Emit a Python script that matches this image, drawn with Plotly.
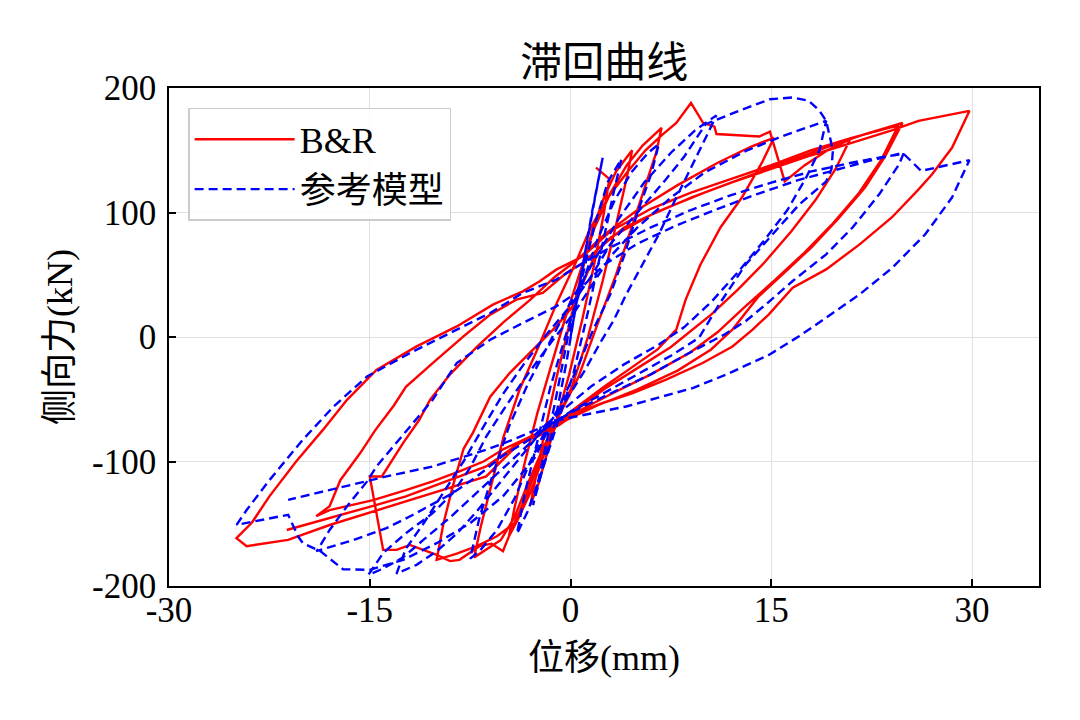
import plotly.graph_objects as go

# B&R hysteresis path (displacement mm, force kN)
red_pts = [
    (1.9, 136), (2.9, 127), (2.5, 100), (1.8, 60), (0.9, 15), (-0.1, -30), (-1.0, -65),
    (-1.8, -95), (-2.4, -118), (-3.0, -135),
    (-2.7, -118), (-2.0, -80), (-1.1, -35), (-0.1, 10), (0.8, 50), (1.6, 85), (2.5, 112),
    (3.4, 133), (4.6, 150),
    (4.2, 128), (3.4, 90), (2.4, 45), (1.3, 0), (0.1, -40), (-1.1, -68), (-2.2, -95),
    (-3.2, -125), (-4.0, -148), (-4.6, -160),
    (-4.2, -138), (-3.4, -100), (-2.5, -62), (-1.5, -25), (-0.4, 15), (0.7, 52), (1.8, 88),
    (3.0, 116), (4.2, 138), (5.4, 154), (6.2, 162), (6.8, 168),
    (6.4, 148), (5.6, 122), (4.6, 90), (3.4, 50), (2.0, 10), (0.6, -32), (-0.8, -62),
    (-2.0, -88), (-3.2, -118), (-4.2, -145), (-5.2, -163), (-6.2, -170), (-7.2, -177),
    (-6.7, -152), (-5.9, -118), (-5.0, -80), (-3.8, -42), (-2.4, -8), (-1.0, 28), (0.4, 60),
    (1.5, 88), (2.8, 112), (4.2, 132), (5.6, 150), (6.8, 162), (7.9, 172), (9.0, 188),
    (9.9, 172), (10.75, 169), (10.9, 163), (12.5, 162), (14.1, 161), (14.9, 165),
    (16.0, 125), (17.5, 138), (19.2, 150), (20.9, 159),
    (19.8, 135), (18.3, 110), (16.5, 85), (14.5, 60), (12.5, 38), (10.5, 18), (9.1, 6),
    (7.5, -8), (5.0, -25), (2.5, -42), (0.5, -58), (-1.0, -70), (-2.0, -90), (-3.0, -118),
    (-3.8, -140), (-4.3, -152), (-5.05, -172), (-5.9, -166), (-6.8, -168), (-8.3, -179),
    (-9.0, -180), (-10.0, -175), (-12.0, -167), (-13.0, -171), (-14.0, -171),
    (-15.0, -112), (-14.1, -112),
    (-12.5, -85), (-11.3, -66.5), (-10.5, -50.5), (-9.0, -30), (-7.0, -8), (-5.0, 12),
    (-3.0, 30), (-1.2, 48), (0.5, 62),
    (2.5, 82), (5.0, 102), (8.0, 122), (11.0, 140), (13.5, 153), (15.2, 160),
    (14.3, 140), (12.8, 112), (11.2, 88), (9.7, 58), (8.6, 30), (7.9, 6), (6.5, -10),
    (4.5, -25), (2.5, -40), (0.5, -56), (-1.0, -68),
    (-2.0, -95), (-3.0, -125), (-4.0, -148), (-5.5, -160), (-7.0, -168), (-8.5, -174),
    (-10.0, -179),
    (-9.5, -150), (-8.8, -120), (-8.0, -90), (-7.3, -77), (-6.0, -48), (-4.55, -29),
    (-2.8, -10), (-1.07, 8.5), (0.17, 24.6), (1.0, 45),
    (2.0, 70), (4.0, 88), (7.0, 103), (10.0, 116), (13.0, 128), (16.0, 140), (19.0, 152),
    (22.0, 163), (24.8, 172),
    (23.5, 145), (22.0, 120), (20.0, 95), (18.0, 72), (16.0, 52), (14.0, 32), (12.1, 6),
    (10.5, -10), (8.0, -27), (5.0, -42), (2.0, -55), (0.0, -65), (-1.2, -72),
    (-3.0, -80), (-5.0, -90), (-6.5, -100), (-8.3, -108), (-10.3, -116), (-12.3, -123),
    (-14.75, -131), (-18.0, -139), (-19.0, -144),
    (-18.0, -136), (-17.2, -115), (-15.7, -93), (-14.6, -75), (-13.2, -55), (-12.3, -40),
    (-10.3, -21), (-8.0, 0.5), (-6.0, 18), (-4.05, 30), (-2.07, 35.4), (-0.32, 51.4),
    (0.92, 59.5),
    (3.0, 80), (6.0, 98), (9.0, 112), (12.0, 124), (15.0, 135), (18.0, 146), (21.0, 156),
    (24.0, 166), (26.0, 173.6), (29.8, 181.6),
    (28.5, 152), (27.0, 130.5), (25.9, 117.4), (24.0, 96), (21.6, 74.4), (19.1, 54.3),
    (16.6, 39.6), (14.8, 18), (13.6, 5.9), (12.1, -7.6), (9.87, -20.9), (7.14, -34.3),
    (4.65, -45), (2.4, -53), (0.43, -61), (-0.82, -70.5),
    (-2.5, -80), (-3.8, -85), (-6.3, -112), (-10.8, -127), (-14.75, -140), (-18.0, -151),
    (-21.1, -163), (-24.2, -168), (-24.96, -161.6),
    (-23.8, -149), (-22.5, -128), (-20.5, -100), (-18.5, -74.6), (-16.7, -50.5),
    (-14.5, -26.4), (-11.5, -7.5), (-8.5, 8.5), (-5.8, 26), (-3.56, 36.7), (-2.3, 44.7),
    (-1.07, 54.1), (0.92, 64.8),
    (3.0, 85), (6.0, 103), (9.0, 116), (12.0, 127), (15.0, 138), (18.0, 150), (21.0, 160),
    (24.5, 170),
    (23.2, 142), (21.5, 115), (19.5, 90), (17.5, 68), (15.3, 46), (13.0, 24), (11.0, 4),
    (9.0, -12), (6.0, -30), (3.0, -46), (0.5, -60), (-1.5, -72),
    (-3.8, -85), (-6.3, -104), (-8.3, -112), (-10.3, -120), (-12.3, -128), (-14.75, -135.6),
    (-18.0, -145.5), (-21.2, -155),
]

# reference model path
blue_pts = [
    (0.0, 0), (0.8, 50), (1.6, 100), (2.4, 144), (1.8, 110), (0.8, 50), (-0.3, -20),
    (-1.2, -70), (-2.2, -110), (-2.8, -135),
    (-2.2, -105), (-1.2, -55), (-0.2, 0), (0.8, 45), (1.8, 90), (2.8, 125), (3.8, 143),
    (3.2, 115), (2.3, 70), (1.3, 20), (0.2, -30), (-1.0, -70), (-2.2, -110), (-3.2, -140),
    (-4.0, -158),
    (-3.4, -125), (-2.5, -85), (-1.5, -40), (-0.4, 0), (0.8, 40), (2.0, 78), (3.3, 110),
    (4.6, 133), (5.8, 148), (6.6, 155),
    (6.0, 130), (5.0, 100), (4.0, 65), (3.0, 35), (1.7, 6), (0.5, -25), (-0.8, -55),
    (-2.0, -78), (-3.0, -100), (-4.2, -130), (-5.5, -155), (-6.8, -172), (-7.5, -178),
    (-6.8, -145), (-5.8, -110), (-4.6, -72), (-3.2, -38), (-1.6, -5), (0.0, 28), (1.8, 62),
    (3.6, 95), (5.5, 124), (7.5, 148), (9.3, 166), (10.9, 178),
    (10.1, 160), (9.1, 138.7), (7.9, 112), (6.6, 82.5), (5.4, 58.4), (4.16, 34.2),
    (3.2, 12.9), (2.2, -5), (1.0, -28), (-0.3, -50), (-1.5, -68),
    (-2.5, -80), (-4.0, -100), (-5.5, -120), (-7.0, -140), (-8.5, -158), (-10.0, -172),
    (-11.5, -183), (-13.0, -190),
    (-12.3, -170), (-11.0, -150), (-9.5, -125), (-8.0, -100), (-6.5, -72), (-5.0, -45),
    (-3.5, -22), (-1.8, 2), (0.0, 25), (1.5, 48),
    (3.0, 75), (5.0, 100), (7.0, 125), (8.5, 145), (10.1, 171), (12.6, 181.7), (14.9, 191),
    (16.6, 192.4), (17.8, 189.7), (18.6, 181.7), (19.1, 173.6), (19.6, 150), (19.5, 135),
    (19.1, 125), (17.1, 106.6), (15.1, 82.5), (13.1, 58.4), (11.1, 26.2), (9.6, -0.6),
    (7.5, -15), (5.0, -30), (2.5, -45), (0.0, -60), (-1.5, -70),
    (-3.0, -85), (-5.0, -105), (-7.0, -125), (-9.0, -145), (-11.0, -163), (-12.5, -177),
    (-14.0, -186), (-15.1, -191),
    (-14.0, -173.6), (-12.3, -157.6), (-10.3, -141.5), (-8.8, -125.4), (-7.5, -105),
    (-6.3, -80), (-4.8, -55), (-3.2, -30), (-1.5, -5), (0.3, 20), (1.5, 40),
    (3.0, 65), (5.0, 88), (7.5, 112), (10.0, 132), (13.1, 149.5), (16.0, 162), (19.1, 173.6),
    (18.6, 150), (17.6, 128), (16.2, 102), (14.5, 78), (12.5, 52), (10.5, 28), (8.5, 8),
    (6.6, -6), (4.0, -22), (1.5, -40), (-0.5, -58), (-1.8, -70),
    (-3.0, -82), (-5.0, -95), (-7.0, -112), (-8.8, -125.4), (-11.8, -143), (-13.75, -153.5),
    (-16.2, -163), (-19.0, -172),
    (-18.9, -171), (-18.0, -155), (-16.7, -136), (-15.2, -116), (-14.5, -104),
    (-12.8, -82.5), (-11.3, -63.8), (-10.3, -50.4), (-8.5, -20.9), (-6.0, -2.2),
    (-3.56, 11.3), (-1.07, 24.6), (0.43, 35.4),
    (2.5, 58), (5.0, 75), (8.0, 90), (11.0, 103), (14.0, 115), (17.0, 126), (20.0, 135),
    (22.5, 142), (24.9, 148),
    (24.55, 138.7), (23.06, 114.6), (21.07, 87.9), (19.1, 66.4), (16.6, 45), (14.6, 26.2),
    (13.1, 12.9), (11.5, 2), (9.0, -12), (6.0, -30), (3.0, -45), (0.5, -58), (-1.5, -70),
    (-2.6, -96), (-5.05, -128), (-7.5, -149.5), (-10.0, -165.6), (-12.5, -179), (-15.0, -187),
    (-17.0, -186.5), (-18.7, -172), (-20.0, -165.6), (-20.35, -160.3), (-21.1, -142.8),
    (-24.95, -150.9),
    (-24.2, -139), (-22.5, -115), (-20.0, -82.5), (-17.7, -55.8), (-15.2, -31.7),
    (-12.0, -12.9), (-9.0, 3.2), (-6.0, 19.3), (-3.56, 35.4), (-1.07, 46.1), (0.92, 59.5),
    (3.0, 72), (6.0, 88), (9.0, 102), (12.0, 114), (15.0, 124), (18.0, 133), (21.0, 140),
    (23.5, 145), (24.9, 147), (26.2, 133.4), (29.8, 142),
    (28.5, 112), (26.5, 82.5), (24.05, 55.7), (21.6, 34.2), (19.1, 15.5), (17.1, 0.8),
    (14.85, -14.2), (11.6, -30.3), (9.13, -41), (4.16, -55.8), (-0.82, -66.5),
    (-4.3, -82.5), (-6.3, -90.6), (-10.3, -104), (-13.75, -112), (-17.2, -121),
    (-21.1, -130.8),
]

x_ticks = [-30, -15, 0, 15, 30]
x_labels = ["-30", "-15", "0", "15", "30"]
y_ticks = [-200, -100, 0, 100, 200]
y_labels = ["-200", "-100", "0", "100", "200"]

FONT = "Liberation Serif, Times New Roman, Noto Sans CJK SC, serif"

fig = go.Figure()
fig.add_trace(go.Scatter(
    x=[p[0] for p in red_pts], y=[p[1] for p in red_pts],
    mode="lines", name="B&R",
    line=dict(color="#ff0000", width=2.4),
))
fig.add_trace(go.Scatter(
    x=[p[0] for p in blue_pts], y=[p[1] for p in blue_pts],
    mode="lines", name="参考模型",
    line=dict(color="#0000ff", width=2.4, dash="9px,5px"),
))

axis_common = dict(
    showline=True, linecolor="black", linewidth=1.5, mirror=True,
    ticks="inside", ticklen=7, tickwidth=1.5, tickcolor="black",
    showgrid=True, gridcolor="#e0e0e0", gridwidth=1.2,
    zeroline=False,
    tickfont=dict(family=FONT, size=35, color="black"),
)

fig.update_xaxes(
    range=[-30, 35], tickvals=x_ticks, ticktext=x_labels,
    ticklabelstandoff=-8,
    title=dict(text="位移(mm)", font=dict(family=FONT, size=36, color="black"), standoff=16),
    **axis_common,
)
fig.update_yaxes(
    range=[-200, 200], tickvals=y_ticks, ticktext=y_labels,
    ticklabelstandoff=4,
    title=dict(text="侧向力(kN)", font=dict(family=FONT, size=36, color="black"), standoff=8),
    **axis_common,
)

# the page body adds an 8px offset, so margins are shifted to compensate
fig.update_layout(
    width=1080, height=720,
    margin=dict(l=161, r=49, t=80, b=142),
    paper_bgcolor="white", plot_bgcolor="white",
    title=dict(text="滞回曲线", x=0.552, xanchor="center", y=0.925, yanchor="middle",
               font=dict(family=FONT, size=42, color="black")),
    legend=dict(
        x=0.022, y=0.96, xanchor="left", yanchor="top",
        bgcolor="rgba(255,255,255,0.85)", bordercolor="#cccccc", borderwidth=1.5,
        font=dict(family=FONT, size=36, color="black"),
        itemwidth=100,
    ),
    showlegend=True,
)

fig.write_html("out.html")
